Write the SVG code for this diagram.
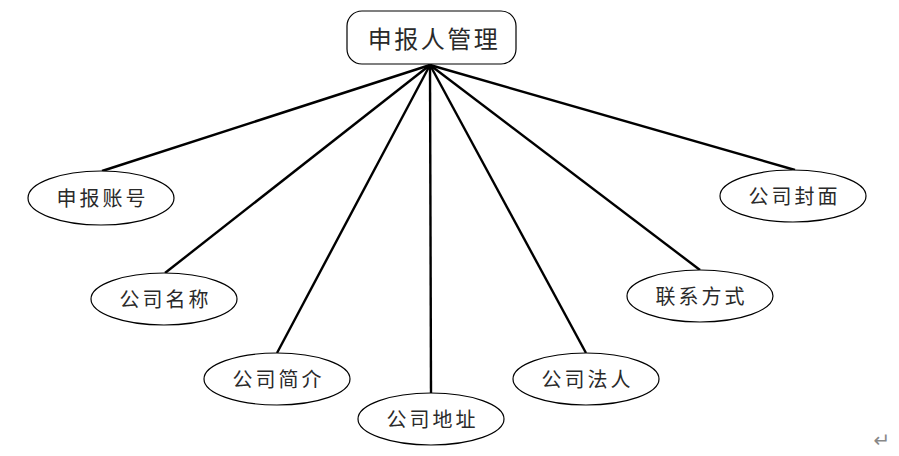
<svg xmlns="http://www.w3.org/2000/svg" width="899" height="456" viewBox="0 0 899 456">
<style>
.n{fill:#fff;stroke:#000;stroke-width:1.2}
.t{font-family:"Noto Sans CJK SC","Noto Sans CJK JP",sans-serif;font-size:20px;letter-spacing:3px;fill:#2a2a2a;text-anchor:middle;dominant-baseline:central}
.c line{stroke:#000;stroke-width:2.4}
</style>
<rect width="899" height="456" fill="#fff"/>
<g class="c" id="connectors">
<line x1="430" y1="65" x2="102" y2="171"/>
<line x1="430" y1="65" x2="165" y2="273"/>
<line x1="430" y1="65" x2="277" y2="353"/>
<line x1="430" y1="65" x2="431" y2="393"/>
<line x1="430" y1="65" x2="586" y2="353"/>
<line x1="430" y1="65" x2="700" y2="270"/>
<line x1="430" y1="65" x2="795" y2="170"/>
</g>
<g id="root"><rect class="n" x="347" y="11" width="169" height="53" rx="15"/><text class="t" x="434" y="37" style="font-size:24px;letter-spacing:2.5px">申报人管理</text></g>
<g id="n1"><ellipse class="n" cx="101" cy="198" rx="73" ry="27"/><text class="t" x="102.5" y="197">申报账号</text></g>
<g id="n2"><ellipse class="n" cx="164" cy="299" rx="73" ry="26"/><text class="t" x="165.5" y="298">公司名称</text></g>
<g id="n3"><ellipse class="n" cx="277" cy="379" rx="73" ry="26"/><text class="t" x="278.5" y="378">公司简介</text></g>
<g id="n4"><ellipse class="n" cx="431" cy="419" rx="73" ry="26"/><text class="t" x="432.5" y="418">公司地址</text></g>
<g id="n5"><ellipse class="n" cx="586" cy="379" rx="73" ry="26"/><text class="t" x="587.5" y="378">公司法人</text></g>
<g id="n6"><ellipse class="n" cx="700" cy="296" rx="73" ry="26"/><text class="t" x="701.5" y="295">联系方式</text></g>
<g id="n7"><ellipse class="n" cx="793" cy="196" rx="73" ry="26"/><text class="t" x="794.5" y="195">公司封面</text></g>
<text x="882" y="447" style="font-family:'DejaVu Sans',sans-serif;font-size:20px;fill:#888;text-anchor:middle">↵</text>
</svg>
